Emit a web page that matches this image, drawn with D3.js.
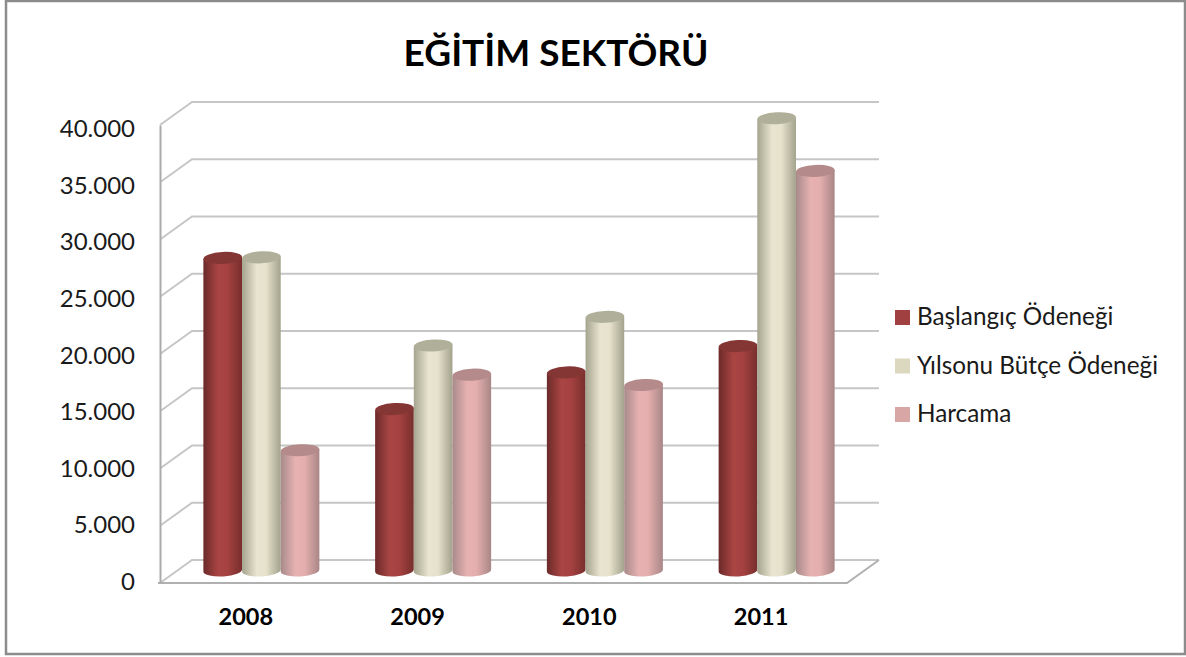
<!DOCTYPE html>
<html>
<head>
<meta charset="utf-8">
<script src="https://cdn.jsdelivr.net/npm/d3@7"></script>
<style>
  html, body { margin: 0; padding: 0; background: #fff; }
  svg { display: block; font-family: Lato, sans-serif; }
</style>
</head>
<body>
<div id="chart"></div>
<script>
const years = ["2008", "2009", "2010", "2011"];
const seriesNames = ["Başlangıç Ödeneği", "Yılsonu Bütçe Ödeneği", "Harcama"];
const baslangic = [27300, 14100, 17300, 19600];
const yilsonu = [27350, 19650, 22150, 39500];
const harcama = [10500, 17100, 16200, 34900];
const yTicks = [0, 5000, 10000, 15000, 20000, 25000, 30000, 35000, 40000];

const seriesValues = [baslangic, yilsonu, harcama];
const swatch = ["#a04040", "#dcd8c0", "#d9a6a6"];
const capColor = ["#843635", "#b0b09a", "#b48a8a"];
const gradStops = [
    ["#6b2a29", "#a94543", "#a54241", "#772e2d"],
    ["#a5a48e", "#e8e4cf", "#e6e2cc", "#a3a28c"],
    ["#a88a8a", "#e7b1b1", "#e4aeae", "#a98686"]
];

const width = 1186;
const height = 657;

// the box of the 3D plot: front plane plus the shift to the back wall
const frontLeft = 160, frontRight = 847;
const yBottom = 583, yTop = 125;
const depthX = 32, depthY = -23;

const svg = d3.select("#chart").append("svg")
    .attr("width", width)
    .attr("height", height);

svg.append("rect")
    .attr("x", 6).attr("y", 1)
    .attr("width", 1179).attr("height", 653)
    .attr("fill", "#fff")
    .attr("stroke", "#8c8c8c")
    .attr("stroke-width", 2.5);

svg.append("text")
    .attr("x", 556).attr("y", 66)
    .attr("text-anchor", "middle")
    .style("font-size", "37px")
    .style("font-weight", 700)
    .style("fill", "#000")
    .text("EĞİTİM SEKTÖRÜ");

const y = d3.scaleLinear().domain([0, 40000]).range([yBottom, yTop]);
const x = d3.scaleBand().domain(years).range([frontLeft, frontRight]);
const xInner = d3.scaleBand().domain(d3.range(seriesNames.length)).range([-58, 58]);
// tick labels in the picture are spaced a little tighter than the gridlines
const labelY = d3.scaleLinear().domain([0, 40000]).range([590, 137]);

// gridlines on the left wall and back wall
const grid = svg.append("g").attr("fill", "none").attr("stroke", "#c6c6c6").attr("stroke-width", 2);
grid.selectAll("path")
    .data(yTicks)
    .enter()
    .append("path")
    .attr("d", d => `M${frontLeft},${y(d)}L${frontLeft + depthX},${y(d) + depthY}L${frontRight + depthX},${y(d) + depthY}`);

// floor front and right edge
svg.append("path")
    .attr("d", `M${frontLeft - 2},${yBottom}L${frontRight},${yBottom}L${frontRight + depthX},${yBottom + depthY}`)
    .attr("fill", "none")
    .attr("stroke", "#b0b0b0")
    .attr("stroke-width", 2);

// y axis
const yAxis = svg.append("g")
    .attr("transform", `translate(${frontLeft},0)`)
    .call(d3.axisLeft(y)
        .tickValues(yTicks)
        .tickSize(0)
        .tickPadding(25)
        .tickFormat(d => d3.format(",")(d).replace(/,/g, ".")));
yAxis.select(".domain").attr("stroke", "#ababab").attr("stroke-width", 2);
yAxis.selectAll(".tick").attr("transform", "translate(0,0)");
yAxis.selectAll("text")
    .attr("dy", 0)
    .attr("y", d => labelY(d))
    .style("font-family", "Lato, sans-serif")
    .style("font-size", "24px")
    .style("fill", "#1a1a1a");

// x axis labels
svg.append("g")
    .selectAll("text")
    .data(years)
    .enter()
    .append("text")
    .attr("x", d => x(d) + x.bandwidth() / 2)
    .attr("y", 625)
    .attr("text-anchor", "middle")
    .style("font-size", "23.5px")
    .style("font-weight", 700)
    .style("fill", "#000")
    .text(d => d);

// cylinder shading
const defs = svg.append("defs");
gradStops.forEach((stops, i) => {
    const g = defs.append("linearGradient").attr("id", "cyl" + i);
    [0, 0.38, 0.62, 1].forEach((o, j) => {
        g.append("stop").attr("offset", o).attr("stop-color", stops[j]);
    });
});

// bars stand half way into the depth of the box
const barShiftX = depthX / 2 - 0.5, barShiftY = depthY / 2 - 1;
const ry = 6, tilt = 1.2;

const bars = svg.append("g");
years.forEach((year, yi) => {
    seriesValues.forEach((values, si) => {
        const x0 = x(year) + x.bandwidth() / 2 + barShiftX + xInner(si);
        const x1 = x0 + xInner.bandwidth();
        const cx = (x0 + x1) / 2;
        const rx = (x1 - x0) / 2;
        const base = y(0) + barShiftY;
        const top = y(values[yi]) + barShiftY;
        bars.append("path")
            .attr("d", `M${x0},${top + tilt}L${x0},${base + tilt}A${rx},${ry} -3 0 0 ${x1},${base - tilt}L${x1},${top - tilt}Z`)
            .attr("fill", `url(#cyl${si})`);
        bars.append("ellipse")
            .attr("cx", cx).attr("cy", top)
            .attr("rx", rx).attr("ry", ry)
            .attr("transform", `rotate(-3 ${cx} ${top})`)
            .attr("fill", capColor[si]);
    });
});

// legend
const legend = svg.append("g")
    .selectAll("g")
    .data(seriesNames)
    .enter()
    .append("g")
    .attr("transform", (d, i) => `translate(895,${310 + i * 48.5})`);
legend.append("rect")
    .attr("width", 15).attr("height", 15)
    .attr("fill", (d, i) => swatch[i]);
legend.append("text")
    .attr("x", 22).attr("y", 15)
    .style("font-size", "24.3px")
    .style("fill", "#1a1a1a")
    .text(d => d);
</script>
</body>
</html>
